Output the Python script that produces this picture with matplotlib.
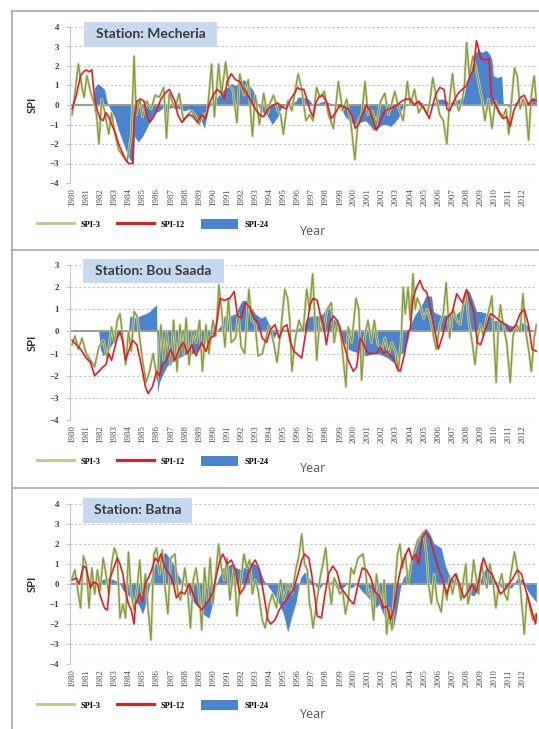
import matplotlib.pyplot as plt
import matplotlib.patheffects as pe
from matplotlib.lines import Line2D
from matplotlib.patches import Patch, Rectangle

# (year, SPI), station by station
mech_spi3 = [
    (1980.0, -0.5), (1980.2, 0.6), (1980.45, 2.1), (1980.7, 0.9), (1980.85, 0.4), (1981.05, 1.5), (1981.3, 0.7), (1981.6, 0.0),
    (1981.75, -0.6), (1981.9, -2.0), (1982.1, 0.3), (1982.3, -0.3), (1982.6, -1.5), (1982.8, -0.4), (1983.0, -1.3), (1983.3, -2.3),
    (1983.6, -2.6), (1983.9, -2.9), (1984.2, -1.5), (1984.4, 2.5), (1984.55, -0.5), (1984.8, 0.3), (1985.0, -0.6), (1985.3, 0.2),
    (1985.6, -0.2), (1985.9, 0.5), (1986.2, 0.4), (1986.5, 0.9), (1986.7, -1.7), (1986.9, 0.6), (1987.1, 0.2), (1987.3, -0.2),
    (1987.6, 0.6), (1987.9, -0.8), (1988.2, -0.5), (1988.5, -0.3), (1988.8, -0.6), (1989.0, -1.0), (1989.3, -0.5), (1989.6, -0.4),
    (1989.9, 2.1), (1990.1, -0.6), (1990.4, 2.1), (1990.6, 0.5), (1990.9, 2.2), (1991.1, 1.0), (1991.4, 0.8), (1991.7, -0.9),
    (1991.9, 1.6), (1992.2, 0.5), (1992.5, 1.3), (1992.8, -1.6), (1993.0, 0.5), (1993.3, -1.0), (1993.6, 0.6), (1993.85, -0.5),
    (1994.05, 0.1), (1994.3, 0.5), (1994.6, -0.3), (1994.8, -0.5), (1995.0, -1.5), (1995.3, 0.2), (1995.6, -0.3), (1995.8, 0.6),
    (1996.05, 1.6), (1996.3, 0.8), (1996.6, -0.8), (1996.85, -0.5), (1997.1, -0.8), (1997.35, 0.9), (1997.6, 0.4), (1997.9, 0.7),
    (1998.2, -0.5), (1998.55, -1.2), (1998.9, 1.2), (1999.2, -0.3), (1999.5, 0.3), (1999.8, -1.0), (2000.07, -2.8), (2000.3, -0.8),
    (2000.55, -0.5), (2000.8, 1.2), (2001.0, -0.5), (2001.3, -0.3), (2001.6, -1.0), (2001.9, 0.2), (2002.2, 0.6), (2002.45, -0.5),
    (2002.7, 0.1), (2002.9, 0.7), (2003.2, -0.2), (2003.5, -0.8), (2003.8, 1.2), (2004.0, 0.0), (2004.3, 0.8), (2004.6, -0.4),
    (2004.9, 0.0), (2005.2, -0.5), (2005.4, 0.2), (2005.6, 1.4), (2005.85, 0.4), (2006.1, -0.5), (2006.35, -0.8), (2006.6, -2.0),
    (2006.8, 0.3), (2007.0, 1.6), (2007.2, 0.3), (2007.45, -0.3), (2007.7, 0.3), (2007.85, 1.0), (2008.0, 3.2), (2008.2, 1.5),
    (2008.45, 2.5), (2008.7, 1.8), (2008.9, 1.0), (2009.1, 0.3), (2009.3, -0.8), (2009.55, 0.3), (2009.8, -1.2), (2010.05, 0.2),
    (2010.3, -0.3), (2010.6, -0.6), (2010.8, -0.2), (2011.0, -1.5), (2011.2, 0.3), (2011.4, 1.9), (2011.6, 1.5), (2011.8, -0.2),
    (2012.0, 0.3), (2012.2, 0.0), (2012.4, -1.8), (2012.6, 0.5), (2012.8, 1.5), (2012.95, 0.2),
]
mech_spi12 = [
    (1980.0, -0.2), (1980.3, 0.5), (1980.6, 1.5), (1980.8, 1.7), (1981.0, 1.8), (1981.2, 1.7), (1981.4, 1.8), (1981.6, 0.3),
    (1981.8, -0.3), (1982.0, -0.7), (1982.2, -0.8), (1982.4, -0.4), (1982.6, -0.6), (1982.8, -1.0), (1983.0, -1.3), (1983.3, -2.0),
    (1983.6, -2.5), (1983.8, -2.8), (1984.0, -3.0), (1984.3, -3.0), (1984.4, -0.8), (1984.6, 0.2), (1984.9, 0.3), (1985.1, 0.2),
    (1985.3, -0.5), (1985.5, -0.9), (1985.8, -0.6), (1986.0, -0.3), (1986.3, 0.3), (1986.6, 0.6), (1986.9, 0.8), (1987.1, 0.5),
    (1987.3, 0.2), (1987.5, -0.5), (1987.8, -0.9), (1988.0, -0.7), (1988.3, -0.5), (1988.6, -0.6), (1988.9, -0.9), (1989.2, -0.5),
    (1989.5, -0.7), (1989.7, 0.0), (1990.0, 0.5), (1990.3, 0.8), (1990.6, 0.6), (1990.8, 0.3), (1991.0, 1.2), (1991.3, 1.6),
    (1991.6, 1.3), (1991.9, 1.2), (1992.1, 0.9), (1992.4, 0.6), (1992.7, 0.2), (1993.0, -0.2), (1993.3, -0.5), (1993.6, -0.6),
    (1993.9, -0.2), (1994.3, 0.0), (1994.6, 0.1), (1994.9, -0.1), (1995.2, -0.2), (1995.5, 0.3), (1995.8, 0.6), (1996.0, 0.9),
    (1996.2, 0.8), (1996.45, 0.8), (1996.7, 0.2), (1996.9, -0.3), (1997.1, -0.6), (1997.3, 0.1), (1997.5, 0.4), (1997.8, 0.5),
    (1998.1, 0.1), (1998.4, -0.7), (1998.7, -0.4), (1999.0, 0.0), (1999.3, -0.1), (1999.6, -0.2), (1999.9, -0.6), (2000.1, -1.2),
    (2000.35, -1.0), (2000.6, -0.5), (2000.9, 0.0), (2001.2, -0.4), (2001.6, -1.3), (2001.8, -1.0), (2002.0, -0.6), (2002.2, -0.3),
    (2002.5, -0.2), (2002.8, -0.1), (2003.1, 0.0), (2003.4, 0.2), (2003.7, 0.3), (2004.0, 0.3), (2004.3, 0.0), (2004.6, 0.2),
    (2004.9, -0.1), (2005.15, -0.4), (2005.35, -0.7), (2005.6, 0.0), (2005.85, 0.6), (2006.1, 0.9), (2006.4, 0.8), (2006.6, -0.2),
    (2006.8, -0.3), (2007.1, 0.2), (2007.4, 0.6), (2007.7, 0.8), (2008.0, 1.0), (2008.25, 1.5), (2008.5, 1.8), (2008.7, 3.3),
    (2008.85, 2.9), (2009.0, 2.4), (2009.3, 2.3), (2009.6, 2.4), (2009.75, 0.5), (2010.0, 0.1), (2010.3, -0.4), (2010.6, -0.7),
    (2010.85, -0.6), (2011.1, -1.1), (2011.35, -0.3), (2011.6, 0.1), (2011.85, 0.4), (2012.1, 0.5), (2012.4, 0.0), (2012.7, 0.3),
    (2012.95, 0.2),
]
mech_spi24 = [
    (1980.0, 0.0), (1981.5, 0.0), (1981.6, 0.9), (1981.8, 1.1), (1982.0, 1.0), (1982.3, 0.8), (1982.5, 0.1), (1982.7, -0.2),
    (1983.0, -0.6), (1983.3, -1.3), (1983.6, -1.9), (1983.9, -2.5), (1984.1, -2.8), (1984.35, -3.0), (1984.42, -1.6), (1984.7, -1.9),
    (1985.0, -1.6), (1985.3, -1.2), (1985.6, -0.7), (1985.9, -0.4), (1986.2, -0.3), (1986.5, -0.1), (1986.7, -0.7), (1986.8, -0.2),
    (1987.2, -0.1), (1987.6, -0.2), (1988.0, -0.3), (1988.3, -0.2), (1988.5, -0.5), (1988.8, -0.8), (1989.1, -0.7), (1989.4, -1.2),
    (1989.6, -0.3), (1989.9, 0.2), (1990.2, 0.3), (1990.5, 0.6), (1990.8, 0.8), (1991.0, 0.9), (1991.3, 1.1), (1991.6, 1.0),
    (1991.9, 1.2), (1992.2, 1.3), (1992.5, 1.1), (1992.8, 0.8), (1993.0, 0.5), (1993.3, -0.2), (1993.6, -0.4), (1993.9, -0.6),
    (1994.2, -1.0), (1994.6, -0.6), (1994.8, -0.2), (1995.1, 0.0), (1995.5, 0.1), (1995.9, 0.2), (1996.0, 0.4), (1996.4, 0.4),
    (1996.8, 0.3), (1997.1, 0.0), (1997.5, 0.1), (1997.9, 0.2), (1998.3, 0.1), (1998.7, 0.0), (1999.1, -0.2), (1999.4, -0.6),
    (1999.7, -0.8), (2000.0, -1.0), (2000.4, -0.9), (2000.8, -0.8), (2001.1, -1.0), (2001.4, -1.3), (2001.7, -1.2), (2002.0, -1.0),
    (2002.3, -1.0), (2002.6, -1.1), (2002.9, -0.9), (2003.2, -0.6), (2003.4, -0.2), (2003.7, 0.0), (2004.1, 0.1), (2004.5, 0.2),
    (2004.9, 0.1), (2005.3, 0.0), (2005.7, 0.1), (2006.0, 0.3), (2006.4, 0.3), (2006.8, 0.1), (2007.1, 0.2), (2007.5, 0.3),
    (2007.8, 0.4), (2007.95, 1.0), (2008.1, 1.4), (2008.25, 1.8), (2008.45, 2.2), (2008.65, 2.7), (2008.8, 2.8), (2009.1, 2.7),
    (2009.4, 2.8), (2009.65, 2.6), (2009.8, 2.3), (2009.9, 1.5), (2010.2, 1.4), (2010.5, 1.5), (2010.6, 0.1), (2011.0, -0.1),
    (2011.4, 0.1), (2011.8, 0.2), (2012.2, 0.1), (2012.6, 0.3), (2012.95, 0.5),
]

bou_spi3 = [
    (1980.0, -0.6), (1980.2, -0.2), (1980.45, -0.8), (1980.7, -0.3), (1981.0, -1.0), (1981.3, -1.3), (1981.6, -1.6), (1981.9, -0.7),
    (1982.2, -0.4), (1982.5, -1.2), (1982.8, 0.2), (1983.0, -0.5), (1983.2, 0.5), (1983.4, 0.8), (1983.6, -0.3), (1983.8, -1.5),
    (1984.0, 0.0), (1984.2, -0.9), (1984.4, 0.9), (1984.6, 0.7), (1984.8, -0.3), (1985.0, -1.3), (1985.25, -2.3), (1985.5, -1.8),
    (1985.75, -1.0), (1986.05, -2.2), (1986.3, 0.3), (1986.5, -1.3), (1986.7, 0.0), (1987.0, -1.5), (1987.2, 0.5), (1987.45, -1.8),
    (1987.65, 0.3), (1987.9, -1.0), (1988.1, 0.6), (1988.3, -1.5), (1988.55, 0.0), (1988.8, -0.5), (1989.05, 0.5), (1989.25, -1.8),
    (1989.5, 0.3), (1989.7, -1.0), (1990.0, 0.5), (1990.2, -0.2), (1990.42, 2.1), (1990.6, 1.0), (1990.85, -0.7), (1991.1, 1.5),
    (1991.3, -0.5), (1991.6, -0.3), (1991.8, 0.8), (1992.0, -0.7), (1992.25, -1.0), (1992.55, 1.9), (1992.75, 0.5), (1993.0, 0.3),
    (1993.2, -1.1), (1993.5, -1.0), (1993.8, -0.2), (1994.0, 0.3), (1994.3, -0.5), (1994.55, -1.4), (1994.8, 0.0), (1995.1, 1.9),
    (1995.3, 1.5), (1995.45, 0.5), (1995.6, -1.8), (1995.85, -0.3), (1996.1, 0.5), (1996.4, 0.0), (1996.65, 1.9), (1996.85, 1.0),
    (1997.08, 2.6), (1997.2, 1.0), (1997.36, -1.3), (1997.6, 0.7), (1997.85, 0.0), (1998.1, 1.0), (1998.4, 1.3), (1998.6, -0.5),
    (1998.85, 0.5), (1999.1, -0.3), (1999.44, -2.5), (1999.6, 0.2), (1999.85, -0.5), (2000.15, 1.5), (2000.35, 1.0), (2000.55, -2.2),
    (2000.75, -0.3), (2001.0, 0.5), (2001.25, -0.5), (2001.45, 0.5), (2001.7, -0.6), (2002.0, -0.8), (2002.2, -0.3), (2002.45, -1.0),
    (2002.7, -0.5), (2003.0, -1.0), (2003.15, -1.8), (2003.35, -0.5), (2003.5, 2.0), (2003.65, 0.8), (2003.85, 2.0), (2004.0, 0.5),
    (2004.2, 2.6), (2004.35, 1.0), (2004.5, 1.5), (2004.7, 1.2), (2004.95, 0.6), (2005.2, 1.0), (2005.45, 0.5), (2005.65, -0.2),
    (2005.85, -0.8), (2006.1, 0.3), (2006.35, 0.8), (2006.55, 2.2), (2006.8, -0.3), (2007.05, 1.0), (2007.3, 0.5), (2007.55, 0.3),
    (2007.75, 1.2), (2007.95, 1.8), (2008.15, 0.5), (2008.4, -0.5), (2008.6, -1.5), (2008.8, -0.2), (2009.0, 0.3), (2009.2, -0.2),
    (2009.4, 0.5), (2009.6, 1.0), (2009.8, 1.6), (2009.95, -0.3), (2010.1, -2.3), (2010.25, 0.2), (2010.4, 1.2), (2010.6, 0.3),
    (2010.85, -0.5), (2011.1, -2.3), (2011.3, -0.2), (2011.55, 0.3), (2011.8, 0.0), (2012.0, 1.7), (2012.2, 0.0), (2012.4, -0.8),
    (2012.6, -1.8), (2012.8, -0.3), (2012.95, 0.3),
]
bou_spi12 = [
    (1980.0, -0.4), (1980.3, -0.6), (1980.6, -0.8), (1981.0, -1.2), (1981.3, -1.4), (1981.6, -2.0), (1981.9, -1.8), (1982.2, -1.6),
    (1982.4, -1.5), (1982.6, -1.0), (1982.8, -1.3), (1983.0, -0.8), (1983.2, -0.3), (1983.4, 0.0), (1983.6, -0.5), (1983.8, -1.3),
    (1984.0, -0.9), (1984.3, -0.4), (1984.6, -0.6), (1984.9, -1.5), (1985.2, -2.5), (1985.4, -2.8), (1985.7, -2.5), (1986.0, -1.8),
    (1986.2, -2.0), (1986.4, -1.5), (1986.7, -1.3), (1987.0, -0.8), (1987.3, -1.3), (1987.6, -0.8), (1987.9, -0.5), (1988.2, -1.0),
    (1988.5, -0.6), (1988.8, -1.1), (1989.2, -0.5), (1989.5, -0.9), (1989.8, -0.3), (1990.1, -0.2), (1990.3, 0.5), (1990.5, 1.5),
    (1990.8, 1.4), (1991.2, 1.5), (1991.5, 1.8), (1991.75, 0.7), (1992.0, 0.6), (1992.3, 1.3), (1992.6, 1.1), (1992.9, 0.6),
    (1993.2, 0.4), (1993.5, -0.3), (1993.8, -0.5), (1994.1, 0.1), (1994.4, 0.3), (1994.7, -0.3), (1995.0, 0.2), (1995.25, 0.3),
    (1995.5, -0.5), (1995.75, -0.9), (1996.3, -1.2), (1996.6, 0.0), (1996.9, 1.2), (1997.1, 1.5), (1997.4, 1.4), (1997.6, 0.8),
    (1997.85, 0.3), (1998.05, -0.6), (1998.3, 0.4), (1998.55, 0.7), (1998.8, 0.5), (1999.0, 0.2), (1999.3, -0.6), (1999.6, -1.3),
    (1999.96, -1.8), (2000.2, -1.6), (2000.45, -0.3), (2000.65, -0.5), (2000.9, -0.9), (2001.15, -1.0), (2001.6, -1.0), (2001.86, -0.7),
    (2002.1, -1.0), (2002.33, -0.9), (2002.6, -1.1), (2002.8, -1.2), (2003.1, -1.7), (2003.3, -1.8), (2003.6, -1.0), (2003.85, 0.0),
    (2004.0, 0.1), (2004.2, 1.5), (2004.45, 2.0), (2004.7, 2.3), (2004.93, 1.9), (2005.15, 1.8), (2005.4, 1.2), (2005.65, 0.3),
    (2005.85, -0.3), (2006.0, -0.8), (2006.3, -0.2), (2006.6, 0.6), (2007.0, 0.9), (2007.3, 1.7), (2007.7, 1.3), (2008.0, 1.9),
    (2008.3, 1.3), (2008.55, 0.8), (2008.75, -0.5), (2009.0, -0.6), (2009.4, 0.2), (2009.7, 0.8), (2009.95, 0.7), (2010.3, 0.5),
    (2010.8, 0.3), (2011.1, 0.0), (2011.5, 0.3), (2011.8, 0.8), (2012.1, 1.0), (2012.4, 0.3), (2012.65, -0.8), (2012.95, -0.9),
]
bou_spi24 = [
    (1980.0, 0.0), (1981.9, 0.0), (1982.0, -0.8), (1982.2, -1.1), (1982.5, -0.9), (1982.8, -0.6), (1983.1, -0.3), (1983.4, -0.1),
    (1983.7, 0.0), (1984.0, 0.0), (1984.1, 0.7), (1984.5, 0.6), (1984.8, 0.7), (1985.2, 0.8), (1985.5, 0.9), (1985.8, 1.1),
    (1986.0, 1.2), (1986.05, -2.8), (1986.2, -2.3), (1986.4, -2.0), (1986.7, -1.6), (1987.0, -1.4), (1987.4, -1.3), (1987.8, -1.1),
    (1988.2, -1.0), (1988.6, -1.0), (1989.0, -0.8), (1989.5, -0.5), (1989.9, -0.2), (1990.2, 0.0), (1990.6, 0.3), (1990.8, 0.7),
    (1991.2, 0.7), (1991.6, 0.8), (1991.9, 1.2), (1992.1, 1.4), (1992.4, 1.4), (1992.7, 1.1), (1993.0, 0.8), (1993.4, 0.6),
    (1993.7, 0.7), (1994.0, 0.3), (1994.3, -0.3), (1994.7, 0.1), (1995.2, 0.1), (1995.8, 0.1), (1996.4, 0.2), (1996.65, 0.6),
    (1997.0, 0.7), (1997.4, 0.7), (1997.8, 0.8), (1998.1, 1.1), (1998.2, 1.2), (1998.5, 0.6), (1998.8, 0.4), (1999.1, 0.0),
    (1999.3, -0.5), (1999.6, -0.8), (1999.96, -0.9), (2000.5, -1.0), (2000.9, -1.1), (2001.3, -1.0), (2001.7, -1.0), (2002.1, -1.1),
    (2002.4, -1.2), (2002.8, -1.4), (2003.2, -1.1), (2003.6, -0.9), (2003.9, -0.2), (2004.0, 0.3), (2004.3, 0.7), (2004.6, 1.0),
    (2004.9, 1.3), (2005.1, 1.6), (2005.5, 1.6), (2005.65, 0.9), (2005.9, 0.8), (2006.3, 0.7), (2006.7, 0.8), (2007.1, 0.7),
    (2007.5, 0.9), (2007.8, 1.2), (2007.9, 1.9), (2008.2, 1.8), (2008.5, 1.3), (2008.7, 0.9), (2009.0, 0.9), (2009.5, 0.8),
    (2009.9, 0.5), (2010.3, 0.5), (2010.7, 0.4), (2011.0, 0.3), (2011.5, 0.2), (2011.9, 0.4), (2012.3, 0.3), (2012.6, 0.0),
    (2012.95, 0.0),
]

bat_spi3 = [
    (1980.0, 0.3), (1980.2, 0.7), (1980.4, -0.3), (1980.6, -1.2), (1980.8, 1.4), (1981.0, 1.0), (1981.2, -1.2), (1981.4, 0.8),
    (1981.6, -0.5), (1981.8, 0.7), (1982.0, -0.3), (1982.2, 1.3), (1982.4, 0.5), (1982.6, -0.5), (1982.8, 1.0), (1983.0, 1.8),
    (1983.2, 1.4), (1983.4, -1.7), (1983.6, -1.0), (1983.8, -1.7), (1984.0, 1.6), (1984.2, -0.5), (1984.4, -1.3), (1984.6, -0.3),
    (1984.8, 1.2), (1985.0, -0.8), (1985.2, 0.5), (1985.4, -1.3), (1985.6, -2.8), (1985.8, 1.5), (1986.0, 1.8), (1986.2, 0.5),
    (1986.4, 1.7), (1986.6, -0.2), (1986.8, -1.5), (1987.0, 1.3), (1987.3, 1.5), (1987.5, -0.5), (1987.7, -0.8), (1988.0, 0.8),
    (1988.2, -0.3), (1988.4, -2.2), (1988.6, 0.2), (1988.8, 0.8), (1989.0, -0.3), (1989.2, -2.3), (1989.4, 0.8), (1989.6, -0.8),
    (1989.8, 1.3), (1990.0, -1.0), (1990.2, 0.5), (1990.4, 2.0), (1990.6, 0.8), (1990.8, 0.2), (1991.0, 1.3), (1991.2, -0.8),
    (1991.5, 0.9), (1991.7, -1.6), (1992.0, 0.3), (1992.2, 1.5), (1992.4, 0.8), (1992.6, 1.2), (1992.8, -0.5), (1993.0, 0.2),
    (1993.2, -0.3), (1993.5, -1.8), (1993.7, -2.2), (1994.0, -1.0), (1994.2, -0.5), (1994.5, -1.2), (1994.8, 0.2), (1995.0, -0.8),
    (1995.3, 0.0), (1995.6, -0.5), (1995.9, 0.8), (1996.1, 1.4), (1996.3, 2.5), (1996.5, 1.0), (1996.7, 0.7), (1996.85, -1.0),
    (1996.95, -1.3), (1997.1, -2.2), (1997.35, -1.0), (1997.6, 0.3), (1997.8, 1.0), (1998.0, 1.8), (1998.2, 0.2), (1998.4, -1.0),
    (1998.6, 0.3), (1998.8, 0.0), (1999.0, -0.5), (1999.2, -0.3), (1999.4, -1.5), (1999.6, -0.8), (1999.8, 0.8), (2000.0, 0.5),
    (2000.3, 1.3), (2000.65, 1.5), (2000.85, 0.5), (2001.0, -0.5), (2001.2, -0.3), (2001.4, -1.8), (2001.6, 0.5), (2001.8, -0.5),
    (2002.0, -1.0), (2002.15, 0.2), (2002.33, -2.5), (2002.5, -1.2), (2002.7, -2.3), (2002.9, -0.3), (2003.1, 1.5), (2003.27, 2.0),
    (2003.45, 0.8), (2003.65, 1.5), (2003.85, 0.0), (2004.05, 1.0), (2004.25, 1.5), (2004.45, 2.0), (2004.7, 2.3), (2004.95, 2.6),
    (2005.15, 1.5), (2005.3, 0.0), (2005.5, -1.0), (2005.7, 0.5), (2005.9, -0.8), (2006.2, -1.4), (2006.4, 0.0), (2006.6, -0.8),
    (2006.8, 0.3), (2007.0, -0.5), (2007.3, 0.5), (2007.6, -0.8), (2007.8, 0.3), (2007.95, 1.0), (2008.1, -1.0), (2008.3, -0.3),
    (2008.5, 1.2), (2008.7, 0.2), (2008.85, -0.5), (2009.05, 1.0), (2009.25, 0.3), (2009.45, -0.2), (2009.65, 1.0), (2009.85, 0.3),
    (2010.08, -1.2), (2010.3, 0.0), (2010.5, 0.5), (2010.7, -0.5), (2010.9, -0.8), (2011.1, 0.3), (2011.4, 1.6), (2011.6, 0.8),
    (2011.8, 0.0), (2012.1, -2.5), (2012.3, -0.5), (2012.5, -1.2), (2012.7, -1.8), (2012.95, -1.5),
]
bat_spi12 = [
    (1980.0, 0.2), (1980.3, 0.3), (1980.5, 0.0), (1980.8, 0.9), (1981.0, 0.8), (1981.3, -0.2), (1981.5, 0.1), (1981.8, 0.0),
    (1982.0, -0.6), (1982.3, -1.2), (1982.5, -1.3), (1982.7, 0.3), (1983.0, 0.9), (1983.2, 1.3), (1983.4, 1.0), (1983.6, 0.5),
    (1983.8, -0.4), (1984.0, -1.0), (1984.2, -1.3), (1984.4, -2.0), (1984.5, -1.0), (1984.8, -0.5), (1985.0, -0.9), (1985.2, 0.0),
    (1985.4, 0.3), (1985.6, 0.6), (1985.9, 1.3), (1986.1, 1.1), (1986.3, 1.5), (1986.6, 0.8), (1986.9, 0.5), (1987.2, 0.0),
    (1987.4, -0.7), (1987.7, -0.4), (1988.0, -0.5), (1988.3, 0.0), (1988.6, -0.5), (1988.9, -1.0), (1989.2, -1.3), (1989.5, -1.0),
    (1989.8, -0.7), (1990.0, -0.4), (1990.2, 0.3), (1990.5, 1.2), (1990.7, 1.5), (1991.0, 1.0), (1991.3, 1.2), (1991.6, 0.7),
    (1991.9, -0.5), (1992.2, -0.2), (1992.5, 0.5), (1992.8, 1.0), (1993.0, 1.2), (1993.3, 0.7), (1993.6, -0.5), (1993.9, -1.8),
    (1994.1, -2.0), (1994.4, -1.8), (1994.7, -1.3), (1995.0, -1.0), (1995.4, -0.6), (1995.7, -0.3), (1996.0, 0.4), (1996.3, 1.2),
    (1996.5, 1.5), (1996.8, 1.3), (1997.0, 0.5), (1997.2, -0.5), (1997.4, -1.6), (1997.7, -1.7), (1997.95, -0.5), (1998.2, 0.5),
    (1998.5, 0.9), (1998.8, 0.6), (1999.1, -0.2), (1999.4, -0.5), (1999.7, -0.8), (2000.0, -1.0), (2000.3, 0.0), (2000.6, 0.8),
    (2000.9, 0.7), (2001.2, 0.3), (2001.5, -0.4), (2001.8, -0.6), (2002.1, -1.2), (2002.35, -1.1), (2002.6, -1.8), (2002.85, -1.2),
    (2003.1, 0.0), (2003.4, 1.0), (2003.7, 1.5), (2003.9, 1.8), (2004.15, 1.2), (2004.4, 1.5), (2004.6, 1.0), (2004.85, 2.3),
    (2005.1, 2.6), (2005.4, 2.3), (2005.7, 1.5), (2006.0, 0.8), (2006.3, 0.2), (2006.6, -0.5), (2006.9, 0.2), (2007.2, 0.5),
    (2007.5, 0.0), (2007.8, -0.7), (2008.1, -0.4), (2008.4, 0.0), (2008.7, -0.4), (2009.0, 0.7), (2009.2, 1.3), (2009.5, 0.7),
    (2009.8, 0.5), (2010.1, 0.0), (2010.4, -0.5), (2010.7, -0.3), (2011.0, 0.0), (2011.3, 0.3), (2011.6, 0.7), (2011.9, 0.5),
    (2012.2, -0.3), (2012.5, -1.0), (2012.7, -1.5), (2012.9, -2.0), (2012.97, -1.5),
]
bat_spi24 = [
    (1980.0, 0.0), (1981.9, 0.0), (1982.0, 0.2), (1982.5, 0.3), (1983.0, 0.2), (1983.4, 0.0), (1983.6, -0.3), (1983.9, -0.5),
    (1984.3, -0.8), (1984.7, -1.0), (1985.0, -1.5), (1985.3, -0.8), (1985.5, 0.0), (1985.7, 0.6), (1985.9, 1.0), (1986.2, 1.3),
    (1986.4, 1.4), (1986.6, 1.6), (1986.9, 1.3), (1987.2, 1.0), (1987.5, 0.5), (1987.8, 0.1), (1988.0, -0.1), (1988.3, -0.5),
    (1988.6, -0.9), (1989.0, -1.2), (1989.3, -1.5), (1989.7, -1.7), (1989.9, -1.2), (1990.1, -0.3), (1990.4, 0.3), (1990.7, 0.8),
    (1991.0, 0.9), (1991.3, 1.0), (1991.7, 0.8), (1992.0, 0.7), (1992.3, 0.9), (1992.7, 1.1), (1993.0, 1.0), (1993.3, 0.7),
    (1993.6, 0.2), (1994.0, -0.2), (1994.3, -0.5), (1994.7, -1.0), (1995.0, -1.5), (1995.3, -2.4), (1995.6, -1.6), (1995.9, -0.9),
    (1996.2, 0.3), (1996.5, 0.6), (1996.8, 0.3), (1997.2, 0.0), (1997.5, -0.3), (1997.8, 0.0), (1998.2, 0.0), (1998.5, 0.2),
    (1998.8, -0.3), (1999.2, -0.2), (1999.5, 0.0), (1999.8, -0.2), (2000.2, 0.0), (2000.5, -0.3), (2000.8, -0.5), (2001.2, -0.8),
    (2001.5, -1.2), (2001.8, -1.0), (2002.2, -1.7), (2002.5, -2.0), (2002.8, -2.2), (2003.0, -1.5), (2003.3, -0.2), (2003.5, 0.3),
    (2003.8, 0.6), (2004.1, 1.3), (2004.4, 2.2), (2004.7, 2.5), (2005.1, 2.8), (2005.4, 2.5), (2005.7, 2.0), (2006.0, 1.9),
    (2006.2, 1.8), (2006.5, 0.9), (2006.8, 0.4), (2007.1, 0.2), (2007.5, 0.0), (2007.8, 0.1), (2008.2, -0.5), (2008.5, -0.6),
    (2008.8, -0.3), (2009.1, 0.5), (2009.4, 0.8), (2009.7, 0.6), (2010.0, 0.2), (2010.3, 0.0), (2010.6, -0.3), (2010.9, -0.2),
    (2011.2, -0.2), (2011.6, 0.3), (2012.0, 0.2), (2012.3, -0.3), (2012.6, -0.6), (2012.95, -0.9),
]

stations = ['Mecheria', 'Bou Saada', 'Batna']
series = [
    (mech_spi3, mech_spi12, mech_spi24),
    (bou_spi3, bou_spi12, bou_spi24),
    (bat_spi3, bat_spi12, bat_spi24),
]
ylims = [(-4, 4), (-4, 3), (-4, 4)]
years = list(range(1980, 2013))
legend_labels = ['SPI-3', 'SPI-12', 'SPI-24']

C3 = '#85993f'
C12 = '#e01e26'
C24 = '#4a84cf'

W, H = 539, 729
fig = plt.figure(figsize=(W / 100, H / 100), dpi=100)


def frac(left, top, right, bottom):
    return [left / W, 1 - bottom / H, (right - left) / W, (bottom - top) / H]


# pixel layout of each panel: axes box, title box, legend row, "Year" label
axes_px = [(70, 27, 537, 183), (70, 265, 537, 420), (70, 504, 537, 664)]
title_px = [(84, 22, 217, 47), (83, 259, 224, 283), (83, 498, 192, 523)]
legend_y = [224, 461, 705]
year_y = [232, 469, 714]

# panel frames
frame_kw = dict(color='#a8a8a8', lw=1.2, transform=fig.transFigure)
fig.add_artist(Line2D([12 / W, 12 / W], [0, 1 - 11 / H], **frame_kw))
for yy in [11, 250, 488]:
    fig.add_artist(Line2D([12 / W, 1], [1 - yy / H, 1 - yy / H], **frame_kw))

for i, name in enumerate(stations):
    s3, s12, s24 = series[i]
    ax = fig.add_axes(frac(*axes_px[i]))
    ax.set_xlim(1979.85, 2013.0)
    ax.set_ylim(*ylims[i])

    t24 = [p[0] for p in s24]
    v24 = [p[1] for p in s24]
    ax.fill_between(t24, 0, v24, color=C24, lw=0, zorder=2)
    ax.axhline(0, color='#9a9a9a', lw=1.4, zorder=2.5)
    ax.plot([p[0] for p in s3], [p[1] for p in s3], color=C3, lw=0.9, zorder=3,
            path_effects=[pe.Stroke(linewidth=1.9, foreground='#d0d8a6'), pe.Normal()])
    ax.plot([p[0] for p in s12], [p[1] for p in s12], color=C12, lw=1.2, zorder=4)

    lo, hi = ylims[i]
    ax.set_yticks(range(lo, hi + 1))
    ax.grid(axis='y', color='#c4c4c4', ls=(0, (2, 2)), lw=0.8, zorder=0)
    ax.set_xticks(years)
    ax.set_xticklabels([str(y) for y in years], rotation=90, family='Liberation Serif',
                       fontsize=6.5, color='#505050')
    for lab in ax.get_yticklabels():
        lab.set_family('Liberation Serif')
        lab.set_fontweight('bold')
        lab.set_fontsize(6.5)
        lab.set_color('#404040')
    ax.tick_params(axis='x', length=0, pad=4)
    ax.tick_params(axis='y', length=3, color='#b9c9dd', pad=5)
    for side in ['top', 'right', 'bottom']:
        ax.spines[side].set_visible(False)
    ax.spines['left'].set_color('#b9c9dd')
    ax.set_ylabel('SPI', family='Lato', fontweight='bold', fontsize=8, color='#333333')
    ax.yaxis.set_label_coords(-0.068, 0.5)

    # station title box
    tl, tt, tr, tb = title_px[i]
    fig.add_artist(Rectangle((tl / W, 1 - tb / H), (tr - tl) / W, (tb - tt) / H,
                             transform=fig.transFigure, facecolor='#c6d9f0',
                             edgecolor='none', zorder=5))
    fig.text((tl + tr) / 2 / W, 1 - (tt + tb) / 2 / H, 'Station: ' + name,
             ha='center', va='center', family='Lato', fontweight='bold',
             fontsize=10, color='#3a3a3a', zorder=6)

    handles = [Line2D([], [], color='#c2c98c', lw=2.2),
               Line2D([], [], color=C12, lw=2.2),
               Patch(facecolor=C24, edgecolor='none')]
    ax.legend(handles, legend_labels, loc='center left',
              bbox_to_anchor=(37 / W, 1 - legend_y[i] / H), bbox_transform=fig.transFigure,
              ncol=3, frameon=False, borderpad=0, borderaxespad=0,
              handlelength=4.4, handleheight=1.6, handletextpad=0.8, columnspacing=2.0,
              prop={'family': 'Liberation Serif', 'weight': 'bold', 'size': 6})
    fig.text(313 / W, 1 - year_y[i] / H, 'Year', ha='center', va='center',
             family='Open Sans', fontsize=9, color='#555555')

fig.savefig('out.png', dpi=100)
